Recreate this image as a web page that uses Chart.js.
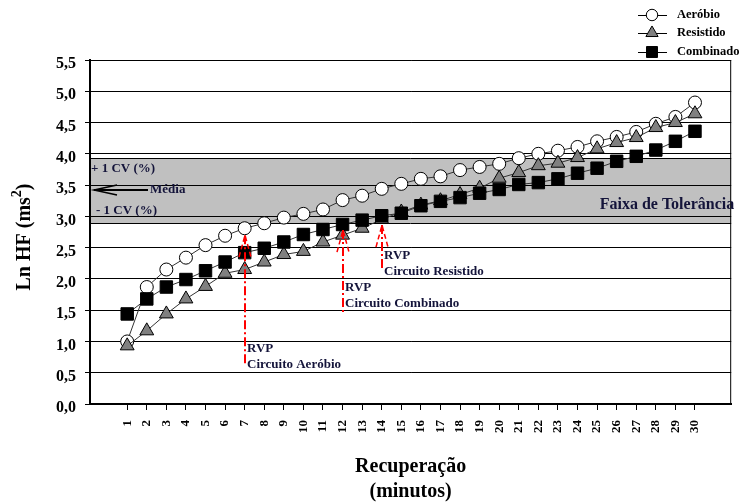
<!DOCTYPE html>
<html>
<head>
<meta charset="utf-8">
<script src="https://cdn.jsdelivr.net/npm/chart.js@4/dist/chart.umd.min.js"></script>
<style>
  html, body { margin: 0; padding: 0; background: #fff; }
  #wrap { width: 741px; height: 504px; }
</style>
</head>
<body>
<div id="wrap"><canvas id="c" width="741" height="504"></canvas></div>
<script>
// Recovery minutes (x categories)
const minutes = [1, 2, 3, 4, 5, 6, 7, 8, 9, 10, 11, 12, 13, 14, 15,
                 16, 17, 18, 19, 20, 21, 22, 23, 24, 25, 26, 27, 28, 29, 30];

// Ln HF (ms²) per recovery minute, one array per circuit
const aerobio   = [1.00, 1.87, 2.15, 2.34, 2.54, 2.69, 2.81, 2.89, 2.98, 3.04,
                   3.11, 3.26, 3.33, 3.44, 3.52, 3.60, 3.64, 3.74, 3.79, 3.84,
                   3.93, 4.00, 4.05, 4.11, 4.20, 4.27, 4.35, 4.48, 4.59, 4.82];
const resistido = [0.93, 1.17, 1.44, 1.68, 1.88, 2.09, 2.15, 2.27, 2.39, 2.44,
                   2.59, 2.70, 2.81, 2.95, 3.07, 3.18, 3.25, 3.35, 3.45, 3.61,
                   3.70, 3.81, 3.85, 3.94, 4.08, 4.18, 4.26, 4.42, 4.50, 4.64];
const combinado = [1.44, 1.68, 1.87, 1.99, 2.13, 2.27, 2.42, 2.49, 2.59, 2.71,
                   2.79, 2.87, 2.94, 3.01, 3.05, 3.17, 3.24, 3.30, 3.37, 3.43,
                   3.51, 3.54, 3.60, 3.69, 3.77, 3.88, 3.96, 4.06, 4.20, 4.36];

const seriesNames = ['Aeróbio', 'Resistido', 'Combinado'];

// Y axis tick labels (0,0 ... 5,5)
const yTickLabels = ['0,0', '0,5', '1,0', '1,5', '2,0', '2,5',
                     '3,0', '3,5', '4,0', '4,5', '5,0', '5,5'];

// Tolerance band: mean ± 1 CV
const bandMean = 3.42;
const bandLow  = 2.90;
const bandHigh = 3.94;

// Minute at which each circuit recovers (RVP)
const rvpMinutes = [7, 12, 14];
const rvpNames   = ['Circuito Aeróbio', 'Circuito Combinado', 'Circuito Resistido'];

const SERIF = '"Liberation Serif", "Times New Roman", serif';
const INK = '#14143a';

// Annotation layout (data units on the y scale)
const rvpLayout = [
  { top: 2.70, bottom: 0.62, label: 0.89 },
  { top: 2.78, bottom: 1.45, label: 1.86 },
  { top: 2.86, bottom: 2.14, label: 2.37 }
];
const bandText = { plus: 3.77, minus: 3.09, faixa: 3.18 };

function drawMarker(ctx, style, x, y, r, fill) {
  ctx.beginPath();
  if (style === 'circle') {
    ctx.arc(x, y, r, 0, Math.PI * 2);
  } else if (style === 'triangle') {
    ctx.moveTo(x, y - r);
    ctx.lineTo(x + r * 0.866, y + r * 0.5);
    ctx.lineTo(x - r * 0.866, y + r * 0.5);
    ctx.closePath();
  } else {
    const s = r * Math.SQRT1_2;
    ctx.rect(x - s, y - s, 2 * s, 2 * s);
  }
  ctx.fillStyle = fill;
  ctx.fill();
  ctx.lineWidth = 1;
  ctx.strokeStyle = '#000';
  ctx.stroke();
}

const decor = {
  id: 'decor',
  beforeDraw(chart) {
    const { ctx, chartArea: a, scales: { y } } = chart;
    const t = Math.round(y.getPixelForValue(bandHigh));
    const b = Math.round(y.getPixelForValue(bandLow));
    ctx.save();
    ctx.fillStyle = '#c0c0c0';
    ctx.fillRect(a.left, t, a.right - a.left, b - t);
    ctx.strokeStyle = '#000';
    ctx.lineWidth = 1;
    ctx.beginPath();
    ctx.moveTo(a.left, t + 0.5); ctx.lineTo(a.right, t + 0.5);
    ctx.moveTo(a.left, b + 0.5); ctx.lineTo(a.right, b + 0.5);
    ctx.stroke();
    ctx.restore();
  },
  beforeDatasetsDraw(chart) {
    const { ctx, chartArea: a, scales: { y } } = chart;
    ctx.save();
    // right frame edge
    ctx.strokeStyle = '#000';
    ctx.lineWidth = 1;
    ctx.beginPath();
    ctx.moveTo(a.right - 0.5, a.top);
    ctx.lineTo(a.right - 0.5, a.bottom);
    ctx.stroke();

    ctx.fillStyle = INK;
    ctx.textBaseline = 'middle';
    ctx.textAlign = 'left';
    ctx.font = 'bold 13px ' + SERIF;
    ctx.fillText('+ 1 CV (%)', a.left + 1, y.getPixelForValue(bandText.plus));
    ctx.fillText('- 1 CV (%)', a.left + 6, y.getPixelForValue(bandText.minus));

    // mean arrow
    const my = y.getPixelForValue(bandMean);
    ctx.strokeStyle = '#000';
    ctx.lineWidth = 2;
    ctx.beginPath();
    ctx.moveTo(a.left + 4, my);
    ctx.lineTo(a.left + 58, my);
    ctx.stroke();
    ctx.lineWidth = 1.5;
    ctx.beginPath();
    ctx.moveTo(a.left + 27, my - 5);
    ctx.lineTo(a.left + 4, my);
    ctx.lineTo(a.left + 27, my + 5);
    ctx.stroke();
    ctx.fillStyle = INK;
    ctx.fillText('Média', a.left + 60, my);

    ctx.font = 'bold 16px ' + SERIF;
    ctx.textAlign = 'right';
    ctx.fillText('Faixa de Tolerância', a.right + 3, y.getPixelForValue(bandText.faixa));
    ctx.restore();
  },
  afterDatasetsDraw(chart) {
    const { ctx, scales: { x, y } } = chart;
    ctx.save();
    rvpMinutes.forEach((m, i) => {
      const L = rvpLayout[i];
      const px = Math.round(x.getPixelForValue(m));
      const top = y.getPixelForValue(L.top);
      const bot = y.getPixelForValue(L.bottom);
      ctx.strokeStyle = '#ff0000';
      ctx.lineWidth = 2;
      ctx.setLineDash([9, 3, 2, 3]);
      ctx.beginPath();
      ctx.moveTo(px, top);
      ctx.lineTo(px, bot);
      ctx.stroke();
      ctx.setLineDash([5, 3]);
      ctx.lineWidth = 1.5;
      ctx.beginPath();
      ctx.moveTo(px - 6, top + 22);
      ctx.lineTo(px, top);
      ctx.lineTo(px + 6, top + 22);
      ctx.stroke();
      ctx.setLineDash([]);

      const ly = y.getPixelForValue(L.label);
      ctx.fillStyle = INK;
      ctx.font = 'bold 13px ' + SERIF;
      ctx.textAlign = 'left';
      ctx.textBaseline = 'middle';
      ctx.fillText('RVP', px + 2, ly);
      ctx.fillText(rvpNames[i], px + 2, ly + 16);
    });
    ctx.restore();
  },
  afterDraw(chart) {
    const { ctx, chartArea: a } = chart;
    ctx.save();

    // y axis title with a raised exponent
    const main = 'Ln HF (ms', sup = '2', close = ')';
    const fMain = 'bold 20px ' + SERIF, fSup = 'bold 14px ' + SERIF;
    ctx.font = fMain;
    const w1 = ctx.measureText(main).width, w3 = ctx.measureText(close).width;
    ctx.font = fSup;
    const w2 = ctx.measureText(sup).width;
    const total = w1 + w2 + w3;
    ctx.translate(30, (a.top + a.bottom) / 2 + 5);
    ctx.rotate(-Math.PI / 2);
    ctx.fillStyle = '#000';
    ctx.textBaseline = 'alphabetic';
    ctx.textAlign = 'left';
    let cx = -total / 2;
    ctx.font = fMain; ctx.fillText(main, cx, 0); cx += w1;
    ctx.font = fSup;  ctx.fillText(sup, cx, -9); cx += w2;
    ctx.font = fMain; ctx.fillText(close, cx, 0);
    ctx.setTransform(1, 0, 0, 1, 0, 0);

    // legend
    const rows = [15, 33, 52];
    chart.data.datasets.forEach((ds, i) => {
      const yy = rows[i];
      ctx.strokeStyle = '#000';
      ctx.lineWidth = 1;
      ctx.beginPath();
      ctx.moveTo(638, yy + 0.5);
      ctx.lineTo(667, yy + 0.5);
      ctx.stroke();
      drawMarker(ctx, ds.pointStyle, 652, yy, ds.pointRadius * 0.88, ds.pointBackgroundColor);
      ctx.fillStyle = '#000';
      ctx.font = 'bold 12.5px ' + SERIF;
      ctx.textAlign = 'left';
      ctx.textBaseline = 'middle';
      ctx.fillText(ds.label, 677, yy);
    });
    ctx.restore();
  }
};

function points(values) {
  return minutes.map((m, i) => ({ x: m, y: values[i] }));
}

const common = {
  borderColor: '#333',
  borderWidth: 1,
  pointBorderColor: '#000',
  pointBorderWidth: 1,
  pointHoverRadius: 0,
  tension: 0,
  fill: false
};

new Chart(document.getElementById('c'), {
  type: 'line',
  data: {
    datasets: [
      Object.assign({}, common, {
        label: seriesNames[0], data: points(aerobio), order: 3,
        pointStyle: 'circle', pointRadius: 6.5, pointBackgroundColor: '#ffffff'
      }),
      Object.assign({}, common, {
        label: seriesNames[1], data: points(resistido), order: 2,
        pointStyle: 'triangle', pointRadius: 8, pointBackgroundColor: '#808080'
      }),
      Object.assign({}, common, {
        label: seriesNames[2], data: points(combinado), order: 1,
        pointStyle: 'rect', pointRadius: 8.8, pointBackgroundColor: '#000000'
      })
    ]
  },
  options: {
    responsive: false,
    animation: false,
    devicePixelRatio: 1,
    layout: { padding: { top: 60, right: 6, bottom: 0, left: 0 } },
    plugins: { legend: { display: false }, tooltip: { enabled: false } },
    scales: {
      x: {
        type: 'linear',
        min: -0.9,
        max: 31.85,
        afterBuildTicks: s => { s.ticks = minutes.map(v => ({ value: v })); },
        afterFit: s => { s.height = 100; },
        grid: { drawOnChartArea: false, drawTicks: true, tickLength: 6, color: '#000' },
        border: { color: '#000', width: 2 },
        ticks: {
          autoSkip: false, maxRotation: 90, minRotation: 90, padding: 10,
          color: '#000', font: { family: SERIF, size: 13, weight: 'bold' },
          callback: v => String(v)
        },
        title: {
          display: true, text: ['Recuperação', '(minutos)'], color: '#000',
          font: { family: SERIF, size: 20, weight: 'bold', lineHeight: 1.25 },
          padding: { top: 0, bottom: 0 }
        }
      },
      y: {
        min: 0,
        max: 5.5,
        afterFit: s => { s.width = 90; },
        grid: { color: '#000', lineWidth: 1, tickLength: 5 },
        border: { color: '#000', width: 2 },
        ticks: {
          stepSize: 0.5, padding: 9, labelOffset: 4, color: '#000',
          font: { family: SERIF, size: 16, weight: 'bold' },
          callback: (v, i) => yTickLabels[i]
        },
        title: { display: false }
      }
    }
  },
  plugins: [decor]
});
</script>
</body>
</html>
